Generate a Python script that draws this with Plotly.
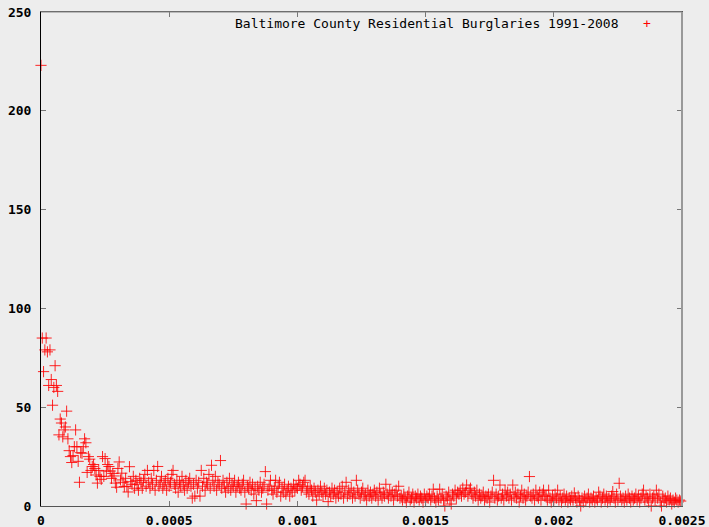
import numpy as np
import plotly.graph_objects as go

BIN_WIDTH = 0.000005

seg_a = [223, 85, 68, 79, 85, 78, 61, 79, 64, 51,
         60, 71, 61, 58, 36, 44, 42, 35, 38.5, 40,
         48, 34, 28, 25, 22, 25.5, 30, 38.5, 30, 22.6,
         12, 27, 26.7, 30, 34, 32, 17, 25, 23.7, 18,
         20, 21, 19, 15.7, 11.6, 18, 15, 13.5, 25, 15,
         24, 17.7, 21, 20]
seg_b = [17.7, 14, 16.5, 15.2, 11.6, 9.5, 19, 22.3, 13.2, 16.6,
         12, 9.8, 14, 10, 7.1, 19.9, 12.3, 11, 15, 9, 13]
seg_c = [11, 8, 14, 12, 9, 13, 16, 10, 18, 12,
         9, 14, 11, 18, 8, 13, 20, 10, 12, 15,
         9, 11, 13, 8, 14, 10, 12, 16, 18, 11,
         9, 13, 7, 12, 10, 15, 11, 8, 13, 9,
         12, 14, 10, 4, 11, 5, 13, 9, 12, 5,
         18, 10, 14, 8, 12, 11, 16, 9, 20.6, 13,
         10, 15, 8, 12, 11, 23, 9, 13, 10, 7,
         12, 9, 14, 8, 11, 10, 13, 7, 10, 12,
         9, 8, 11, 13, 7, 1, 10, 9, 12, 8,
         11, 6, 9, 2.7, 10, 8, 12, 7, 9, 11,
         17.4, 1, 8, 10]
seg_d = [13, 8, 6, 9, 13, 7, 10, 12, 5, 9,
         7, 11, 6, 8, 10, 5, 9, 7, 11, 8,
         10, 9, 13, 11, 8, 10, 12, 13, 7, 9,
         6, 10, 8, 5, 9, 7, 3, 8, 6, 10,
         7, 5, 9, 6, 8, 2.2, 7, 5, 9, 6]
seg_e = [8, 4, 7, 5, 9, 6, 10, 4, 7, 12,
         5, 8, 6, 9, 4, 7, 5, 13, 8, 6,
         4, 7, 9, 5, 6, 3, 8, 5, 7, 4,
         6, 8, 5, 7, 3, 9, 6, 4, 7, 5,
         11, 6, 4, 8, 5, 7, 3, 6, 8, 5, 10, 4]
seg_f = [5, 3, 6, 4, 2, 5, 7, 3, 4, 6,
         2, 5, 4, 6, 3, 5, 4, 2, 6, 3,
         5, 4, 6, 3, 5, 8.5, 4, 2, 5, 3,
         8.5, 4, 6, 3, 0, 5, 4, 7, 3, 1,
         6, 5, 8, 4, 7, 6]
seg_g = [8, 5, 9, 6, 7, 10.6, 5, 8, 9, 6,
         4, 7, 5, 8, 3, 6, 4, 5, 7, 3,
         5, 4, 6, 2, 5, 7, 13, 4, 6, 3,
         5, 10.6, 4, 6, 3, 8, 5, 7, 4, 6,
         3, 10.6, 5, 7, 4, 6, 2, 5, 8, 4,
         6, 3, 5, 7, 14.9, 5, 4, 6, 3, 8,
         5, 4, 7, 3, 6, 8, 5]
seg_h = [5, 3, 8, 4, 2, 5, 3, 6, 4, 8,
         3, 5, 2, 4, 6, 3, 5, 2, 4, 3,
         5, 3, 6.6, 4, 2, 5, 3, 0, 4, 2,
         5, 3, 4, 6, 2, 4, 3, 5, 2, 4,
         3, 7, 5, 2, 4, 6, 3, 5, 2, 4,
         3, 5, 7.3, 4, 2, 6, 3, 11.5, 5, 3,
         4, 2, 5, 3, 6, 4, 2, 5, 3, 4,
         6, 3, 5, 2, 4, 6, 8, 3, 5, 4,
         2, 6, 0, 4, 5, 3, 8, 4, 6, 2,
         0, 5, 3, 4, 2, 5, 3, 4, 1, 3,
         2, 4, 3, 2, 3, 2.5]

counts = seg_a + seg_b + seg_c + seg_d + seg_e + seg_f + seg_g + seg_h
distance = [i * BIN_WIDTH for i in range(len(counts))]

x_ticks = [0, 0.0005, 0.001, 0.0015, 0.002, 0.0025]
x_tick_labels = ["0", "0.0005", "0.001", "0.0015", "0.002", "0.0025"]
y_ticks = [0, 50, 100, 150, 200, 250]
y_tick_labels = ["0", "50", "100", "150", "200", "250"]
series_name = "Baltimore County Residential Burglaries 1991-2008"

BG = "#ededed"
FONT = "DejaVu Sans Mono"

fig = go.Figure()
fig.add_trace(go.Scatter(
    x=distance, y=counts, mode="markers", name=series_name,
    marker=dict(symbol="cross-thin-open", size=8,
                color="rgba(255,0,0,0.85)",
                line=dict(color="rgba(255,0,0,0.85)", width=1)),
    cliponaxis=False, showlegend=False,
))

fig.update_layout(
    width=709, height=527,
    margin=dict(l=41, r=27, t=12, b=21, autoexpand=False),
    paper_bgcolor=BG, plot_bgcolor=BG,
    font=dict(family=FONT, size=13, color="#000"),
    xaxis=dict(range=[0, 0.0025], tickvals=x_ticks, ticktext=x_tick_labels,
               automargin=False, ticklabeloverflow="allow",
               showgrid=False, zeroline=False, showline=True,
               linecolor="#555", linewidth=1, mirror="ticks",
               ticks="inside", ticklen=5, tickcolor="#777",
               tickfont=dict(family=FONT, size=13, weight="bold"),
               ticklabelstandoff=2),
    yaxis=dict(range=[0, 250], tickvals=y_ticks, ticktext=y_tick_labels,
               automargin=False, ticklabeloverflow="allow",
               showgrid=False, zeroline=False, showline=True,
               linecolor="#000", linewidth=1, mirror="ticks",
               ticks="inside", ticklen=5, tickcolor="#777",
               tickfont=dict(family=FONT, size=13, weight="bold"),
               ticklabelstandoff=6),
    shapes=[
        dict(type="line", xref="paper", yref="paper", x0=0, x1=1, y0=1, y1=1,
             line=dict(color="#888", width=1)),
        dict(type="line", xref="paper", yref="paper", x0=1, x1=1, y0=0, y1=1,
             line=dict(color="#999", width=2)),
    ],
    annotations=[
        dict(text=series_name, xref="paper", yref="paper", x=0.905, y=0.977,
             xanchor="right", yanchor="middle", showarrow=False,
             font=dict(family=FONT, size=13, color="#000")),
        dict(text="+", xref="paper", yref="paper", x=0.946, y=0.977,
             xanchor="center", yanchor="middle", showarrow=False,
             font=dict(family=FONT, size=13, color="#f00")),
    ],
)

fig.write_html("out.html",
               config={"displayModeBar": False},
               post_script="document.body.style.margin='0';"
                           "document.body.style.background='#ededed';")
